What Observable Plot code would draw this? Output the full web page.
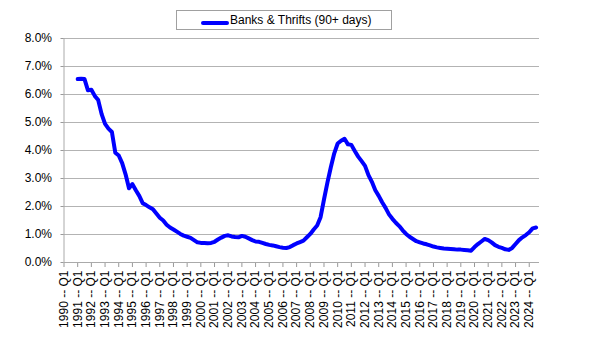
<!DOCTYPE html>
<html>
<head>
<meta charset="utf-8">
<script src="https://cdn.jsdelivr.net/npm/d3@7"></script>
<script src="https://cdn.jsdelivr.net/npm/@observablehq/plot@0.6"></script>
<style>
  html, body { margin: 0; padding: 0; background: #fff; }
  #wrap { position: relative; width: 592px; height: 354px; font-family: "Liberation Sans", Arial, sans-serif; }
  #legend { position: absolute; left: 176px; top: 10px; width: 214px; height: 18px; border: 1px solid #a0a0a0; background: #fff; box-sizing: content-box; }
  #legend .sw { position: absolute; left: 24px; top: 10px; width: 28px; height: 4px; background: #0000ff; border-radius: 2px; }
  #legend .tx { position: absolute; left: 53px; top: 2px; font-size: 12px; color: #000; white-space: nowrap; }
</style>
</head>
<body>
<div id="wrap">
  <div id="chart"></div>
  <div id="legend"><div class="sw"></div><div class="tx" id="legendText"></div></div>
</div>
<script>
// Series: delinquency rate (90+ days), quarterly, starting 1991 Q1
const seriesName = "Banks & Thrifts (90+ days)";
const firstYear = 1990;          // first category on the axis (1990 Q1)
const dataStartYear = 1991;      // first data point (1991 Q1)
const tickYears = d3.range(1990, 2025);
const yTicks = [0, 1, 2, 3, 4, 5, 6, 7, 8];
const values = [
  6.55,6.56,6.55,6.15,6.17,5.95,5.80,5.30,4.95,4.78,
  4.66,3.92,3.82,3.55,3.15,2.65,2.80,2.58,2.38,2.12,
  2.05,1.97,1.90,1.75,1.60,1.50,1.35,1.25,1.18,1.10,
  1.02,0.96,0.92,0.88,0.80,0.72,0.70,0.70,0.69,0.70,
  0.74,0.82,0.89,0.95,0.97,0.93,0.91,0.90,0.95,0.92,
  0.86,0.80,0.75,0.74,0.70,0.66,0.63,0.61,0.58,0.55,
  0.53,0.52,0.55,0.62,0.68,0.73,0.78,0.90,1.02,1.18,
  1.32,1.62,2.25,2.85,3.40,3.90,4.25,4.35,4.42,4.22,
  4.20,3.98,3.78,3.62,3.45,3.12,2.88,2.58,2.38,2.15,
  1.95,1.72,1.56,1.42,1.30,1.15,1.02,0.92,0.84,0.76,
  0.72,0.68,0.65,0.61,0.57,0.54,0.52,0.50,0.49,0.48,
  0.47,0.46,0.46,0.45,0.44,0.42,0.55,0.66,0.75,0.84,
  0.80,0.72,0.62,0.56,0.52,0.47,0.45,0.52,0.66,0.80,
  0.90,0.98,1.08,1.22,1.25
];

const offset = (dataStartYear - firstYear) * 4;
const data = values.map((v, i) => ({q: offset + i, v}));
const lastQ = 139;

document.getElementById("legendText").textContent = seriesName;

const chart = Plot.plot({
  width: 592,
  height: 354,
  marginLeft: 63.5,
  marginRight: 53,
  marginTop: 38,
  marginBottom: 92,
  style: {fontFamily: "'Liberation Sans', Arial, sans-serif", fontSize: "12px", background: "transparent", color: "#000"},
  x: {domain: [0, lastQ], axis: null},
  y: {domain: [0, 8], axis: null},
  marks: [
    Plot.gridY(yTicks.filter(d => d > 0), {stroke: "#666", strokeOpacity: 1, strokeDasharray: "1,1", strokeWidth: 1}),
    Plot.axisY(yTicks, {tickFormat: d => d.toFixed(1) + "%", tickSize: 3, tickPadding: 9, stroke: "#999", fontSize: 12, label: null}),
    Plot.axisX(tickYears.map(y => (y - firstYear) * 4), {
      tickFormat: q => `${firstYear + q / 4} -- Q1`,
      tickRotate: -90, tickSize: 5, tickPadding: 3, stroke: "#999", fontSize: 12, label: null
    }),
    Plot.ruleX([0], {stroke: "#aaa"}),
    Plot.ruleY([0], {stroke: "#aaa"}),
    Plot.line(data, {x: "q", y: "v", stroke: "#0000ff", strokeWidth: 4, strokeLinejoin: "round", strokeLinecap: "round"})
  ]
});
document.getElementById("chart").appendChild(chart);
</script>
</body>
</html>
